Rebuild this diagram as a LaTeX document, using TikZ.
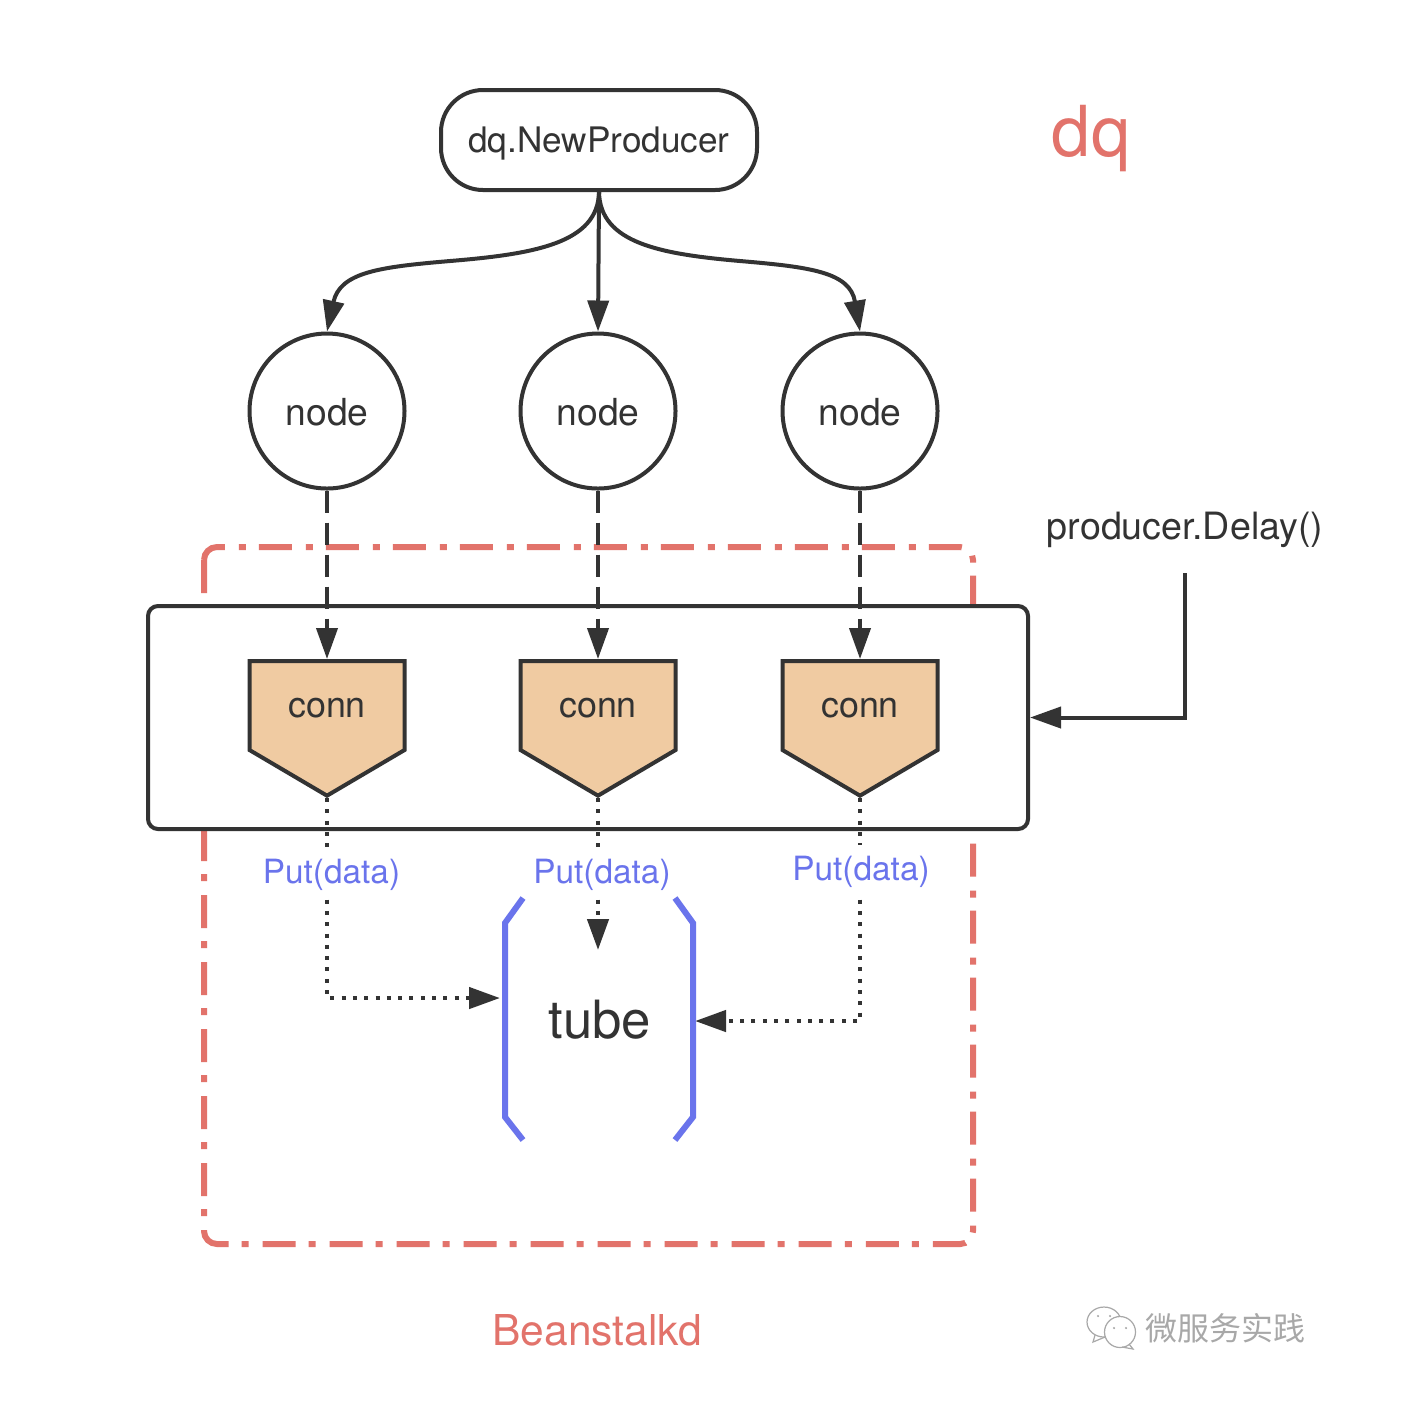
\documentclass[tikz,border=0pt]{standalone}
\usepackage{fontspec}
\setmainfont{TeX Gyre Heros}
\newfontfamily\cjkfont{Noto Sans CJK SC}
\usetikzlibrary{arrows.meta, shapes.symbols}
\definecolor{inkdark}{HTML}{333333}
\definecolor{framered}{HTML}{E2736B}
\definecolor{tubeblue}{HTML}{6A74EC}
\definecolor{connfill}{HTML}{F0CBA2}
\definecolor{markgray}{HTML}{A8A8A8}
\tikzset{
	tip/.style = {-{Triangle[length = 0.31cm, width = 0.21cm]}},
	nodecircle/.style = {draw = inkdark, line width = 0.04cm, circle, minimum size = 1.55cm, inner sep = 0, text height = 0.29cm, text depth = 0, font = \fontsize{10.6}{12}\selectfont, text = inkdark},
	connbox/.style = {draw = inkdark, line width = 0.04cm, fill = connfill, signal, signal to = south, signal from = nowhere, signal pointer angle = 119, minimum width = 1.55cm, inner xsep = 0, inner ysep = 0, text height = 0.56cm, text depth = 0.33cm, text width = 1.55cm, align = center, font = \fontsize{10.2}{12}\selectfont, text = inkdark},
	dashline/.style = {draw = inkdark, line width = 0.04cm, dash pattern = on 0.22cm off 0.1cm, tip},
	dotline/.style = {draw = inkdark, line width = 0.045cm, dash pattern = on 0.04cm off 0.073cm, tip},
	putlabel/.style = {fill = white, inner xsep = 0, inner ysep = 0, text height = 0.3575cm, text depth = 0.1125cm, text = tubeblue, font = \fontsize{9.5}{11}\selectfont},
	bracket/.style = {draw = tubeblue, line width = 0.06cm},
}
\begin{document}
\begin{tikzpicture}
	\useasboundingbox[fill = white] (0, 0) rectangle (14.04, -14.02);

	\draw[framered, line width = 0.06cm, rounded corners = 0.13cm, dash pattern = on 0.33cm off 0.13cm on 0.07cm off 0.14cm] (2.04, -5.47) rectangle (9.73, -12.44);
	\node[draw = inkdark, fill = white, line width = 0.04cm, rounded corners = 0.1cm, minimum width = 8.8cm, minimum height = 2.23cm, inner sep = 0] (connPanel) at (5.88, -7.175) {};

	\node[draw = inkdark, line width = 0.04cm, rounded corners = 0.42cm, minimum width = 3.16cm, minimum height = 1cm, inner sep = 0, text height = 0.3cm, text depth = 0.058cm, text = inkdark, font = \fontsize{10}{12}\selectfont] (newProducer) at (5.99, -1.4) {dq.NewProducer};
	\node[text = framered, font = \fontsize{20}{24}\selectfont] (dqTitle) at (10.91, -1.39) {dq};

	\node[nodecircle] (nodeA) at (3.27, -4.11) {node};
	\node[nodecircle] (nodeB) at (5.98, -4.11) {node};
	\node[nodecircle] (nodeC) at (8.6, -4.11) {node};

	\node[connbox] (connA) at (3.27, -7.055) {conn};
	\node[connbox] (connB) at (5.98, -7.055) {conn};
	\node[connbox] (connC) at (8.6, -7.055) {conn};

	\draw[draw = inkdark, line width = 0.04cm, tip] (newProducer.south) .. controls (5.98, -2.43) and (5.35, -2.54) .. (4.5, -2.61) .. controls (3.8, -2.67) and (3.4, -2.72) .. (nodeA.north);
	\draw[draw = inkdark, line width = 0.04cm, tip] (newProducer.south) -- (nodeB.north);
	\draw[draw = inkdark, line width = 0.04cm, tip] (newProducer.south) .. controls (6, -2.43) and (6.6, -2.54) .. (7.4, -2.61) .. controls (8.1, -2.67) and (8.5, -2.72) .. (nodeC.north);

	\draw[dashline] (nodeA.south) -- (connA.north);
	\draw[dashline] (nodeB.south) -- (connB.north);
	\draw[dashline] (nodeC.south) -- (connC.north);

	\node[font = \fontsize{15}{18}\selectfont, text = inkdark] (tube) at (6, -10.2) {tube};
	\coordinate (tubeLeft) at (5, -9.98);
	\coordinate (tubeRight) at (6.95, -10.21);
	\coordinate (tubeTop) at (5.98, -9.5);

	\draw[dotline] (connA.south) |- (tubeLeft);
	\draw[dotline] (connB.south) -- (tubeTop);
	\draw[dotline] (connC.south) |- (tubeRight);

	\node[putlabel] (putA) at (3.315, -8.715) {Put(data)};
	\node[putlabel] (putB) at (6.02, -8.715) {Put(data)};
	\node[putlabel] (putC) at (8.61, -8.685) {Put(data)};

	\draw[bracket] (5.23, -8.98) -- (5.05, -9.23) -- (5.05, -11.17) -- (5.23, -11.4);
	\draw[bracket] (6.75, -8.98) -- (6.93, -9.23) -- (6.93, -11.17) -- (6.75, -11.4);

	\node[text = inkdark, font = \fontsize{10.7}{13}\selectfont] (delayLabel) at (11.85, -5.3) {producer.Delay()};
	\draw[draw = inkdark, line width = 0.04cm, tip, shorten <= 0.13cm] (delayLabel.south) |- (connPanel.east);

	\node[text = framered, font = \fontsize{12.1}{15}\selectfont] (beanstalkd) at (5.975, -13.3) {Beanstalkd};

	\draw[markgray, line width = 0.012cm] (11.04, -13.22) ellipse (0.17cm and 0.15cm);
	\draw[markgray, line width = 0.012cm] (10.95, -13.35) -- (10.93, -13.42) -- (11.05, -13.37);
	\draw[markgray, line width = 0.012cm, fill = white] (11.2, -13.32) ellipse (0.155cm and 0.155cm);
	\draw[markgray, line width = 0.012cm] (11.29, -13.44) -- (11.33, -13.49) -- (11.22, -13.47);
	\fill[markgray] (10.98, -13.16) circle (0.012cm) (11.1, -13.16) circle (0.012cm) (11.14, -13.28) circle (0.012cm) (11.26, -13.28) circle (0.012cm);
	\node[text = markgray, font = \cjkfont\fontsize{9.1}{11}\selectfont, inner sep = 0] (watermark) at (12.25, -13.28) {微服务实践};
\end{tikzpicture}
\end{document}
